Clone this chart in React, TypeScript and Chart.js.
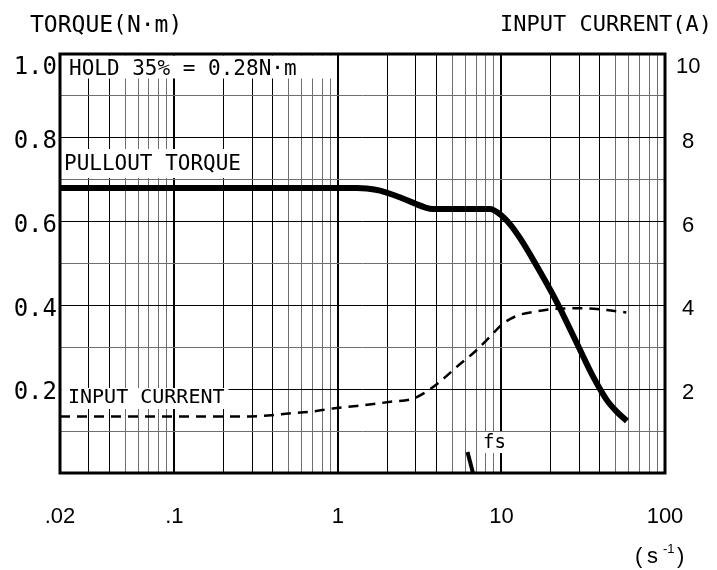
import React, { useEffect, useRef } from 'react';
import { Chart, registerables } from 'chart.js';

Chart.register(...registerables);

// ---- data (frequency in s^-1) ----
const torqueFreq = [0.02, 1.31, 1.5, 1.81, 2.39, 2.96, 3.4, 3.81, 8.5, 9.78, 11.26, 12.96, 15.79, 21.8, 29.3, 36.7, 44.1, 50.8, 58.5];
const torqueValues = [0.68, 0.68, 0.679, 0.674, 0.658, 0.643, 0.634, 0.63, 0.63, 0.618, 0.594, 0.561, 0.506, 0.408, 0.305, 0.227, 0.174, 0.146, 0.124];

const currentFreq = [0.02, 0.29, 0.4, 0.5, 0.67, 0.93, 1.3, 2.1, 2.9, 3.6, 4.45, 5.35, 6.9, 8.5, 10.1, 12.4, 16.5, 21.8, 32, 44, 58];
const currentValues = [1.35, 1.35, 1.38, 1.42, 1.46, 1.54, 1.6, 1.7, 1.78, 1.98, 2.26, 2.54, 2.9, 3.25, 3.55, 3.75, 3.86, 3.92, 3.93, 3.89, 3.83];

const fsMarkerFreq = [6.2, 6.7];
const fsMarkerTorque = [0.05, 0];

// ---- axes ----
const xGridMultipliers = [1, 2, 3, 4, 5, 6, 7, 8, 9];
const xGridDecades = [0.01, 0.1, 1, 10, 100];
const xLabelValues = [0.02, 0.1, 1, 10, 100];
const xLabelTexts = ['.02', '.1', '1', '10', '100'];

const MONO = '"DejaVu Sans Mono", monospace';
const SANS = '"Liberation Sans", Arial, sans-serif';

const xGridValues: number[] = [];
for (const d of xGridDecades) {
  for (const m of xGridMultipliers) {
    const v = d * m;
    if (v >= 0.02 * (1 - 1e-9) && v <= 100 * (1 + 1e-9)) xGridValues.push(v);
  }
}

function multOf(v: number) {
  const e = Math.floor(Math.log10(v) + 1e-9);
  return Math.round(v / Math.pow(10, e));
}

function toPoints(xs: number[], ys: number[]) {
  return xs.map((x, i) => ({ x, y: ys[i] }));
}

const annotationPlugin = {
  id: 'annotations',
  beforeDatasetsDraw(chart: any) {
    const { ctx } = chart;
    ctx.save();
    ctx.fillStyle = '#fff';
    ctx.fillRect(61.5, 55.5, 274, 23);
    ctx.fillRect(61.5, 149, 179, 29);
    ctx.fillRect(61.5, 388, 167, 21);
    ctx.fillRect(480, 432, 26, 21);
    ctx.fillStyle = '#000';
    ctx.textBaseline = 'middle';
    ctx.textAlign = 'left';
    ctx.font = `21px ${MONO}`;
    ctx.fillText('HOLD 35% = 0.28N·m', 69, 70);
    ctx.fillText('PULLOUT TORQUE', 64, 165);
    ctx.font = `20px ${MONO}`;
    ctx.fillText('INPUT CURRENT', 68, 398);
    ctx.font = `19px ${MONO}`;
    ctx.fillText('fs', 483, 443);
    ctx.restore();
  },
  afterDatasetsDraw(chart: any) {
    const { ctx, chartArea: a } = chart;
    ctx.save();
    ctx.strokeStyle = '#000';
    ctx.lineWidth = 3;
    ctx.strokeRect(a.left, a.top, a.right - a.left, a.bottom - a.top);
    ctx.restore();
  },
  afterDraw(chart: any) {
    const { ctx } = chart;
    ctx.save();
    ctx.fillStyle = '#000';
    ctx.textBaseline = 'middle';
    ctx.textAlign = 'left';
    ctx.font = `23px ${MONO}`;
    ctx.fillText('TORQUE(N·m)', 30, 26);
    ctx.textAlign = 'right';
    ctx.font = `22px ${MONO}`;
    ctx.fillText('INPUT CURRENT(A)', 712, 25);
    ctx.textAlign = 'left';
    ctx.font = `22px ${SANS}`;
    ctx.fillText('(', 635, 557);
    ctx.fillText('s', 647, 557);
    ctx.fillText(')', 677, 557);
    ctx.font = `13px ${SANS}`;
    ctx.fillText('-1', 663, 549);
    ctx.restore();
  },
};

export default function App() {
  const ref = useRef<HTMLCanvasElement | null>(null);

  useEffect(() => {
    if (!ref.current) return;
    const chart = new Chart(ref.current, {
      type: 'line',
      data: {
        datasets: [
          {
            label: 'PULLOUT TORQUE',
            data: toPoints(torqueFreq, torqueValues),
            yAxisID: 'y',
            borderColor: '#000',
            borderWidth: 6,
            cubicInterpolationMode: 'monotone',
            pointRadius: 0,
            fill: false,
          },
          {
            label: 'fs',
            data: toPoints(fsMarkerFreq, fsMarkerTorque),
            yAxisID: 'y',
            borderColor: '#000',
            borderWidth: 4,
            pointRadius: 0,
            fill: false,
          },
          {
            label: 'INPUT CURRENT',
            data: toPoints(currentFreq, currentValues),
            yAxisID: 'y1',
            borderColor: '#000',
            borderWidth: 2.5,
            borderDash: [10, 7],
            cubicInterpolationMode: 'monotone',
            pointRadius: 0,
            fill: false,
          },
        ],
      },
      options: {
        animation: false,
        responsive: false,
        layout: { padding: { top: 54, left: 0, right: 0, bottom: 0 } },
        plugins: {
          legend: { display: false },
          tooltip: { enabled: false },
          title: { display: false },
        },
        scales: {
          x: {
            type: 'logarithmic',
            position: 'bottom',
            min: 0.02,
            max: 100,
            afterBuildTicks: (s: any) => {
              s.ticks = xGridValues.map((v) => ({ value: v }));
            },
            afterFit: (s: any) => {
              s.height = 97;
            },
            border: { display: false },
            grid: {
              drawTicks: false,
              color: (c: any) => (c.tick && multOf(c.tick.value) >= 5 ? '#6e6e6e' : '#000'),
              lineWidth: (c: any) => (c.tick && multOf(c.tick.value) === 1 ? 2 : 1),
            },
            ticks: {
              autoSkip: false,
              maxRotation: 0,
              minRotation: 0,
              padding: 31,
              color: '#000',
              font: { family: SANS, size: 22 },
              callback: (v: any) => {
                const val = Number(v);
                const i = xLabelValues.findIndex((t) => Math.abs(Math.log10(t) - Math.log10(val)) < 1e-6);
                return i >= 0 ? xLabelTexts[i] : '';
              },
            },
          },
          y: {
            type: 'linear',
            position: 'left',
            min: 0,
            max: 1,
            afterFit: (s: any) => {
              s.width = 60;
            },
            border: { display: false },
            grid: {
              drawTicks: false,
              color: (c: any) => (Math.round(c.tick.value * 10) % 2 === 0 ? '#000' : '#6e6e6e'),
              lineWidth: 1,
            },
            ticks: {
              stepSize: 0.1,
              autoSkip: false,
              padding: 3,
              labelOffset: 4,
              color: '#000',
              font: { family: MONO, size: 24, lineHeight: 0.85 },
              callback: (v: any) => {
                const k = Math.round(Number(v) * 10);
                if (k === 0 || k % 2) return '';
                const s = (k / 10).toFixed(1);
                return k === 10 ? ['', s] : s;
              },
            },
          },
          y1: {
            type: 'linear',
            position: 'right',
            min: 0,
            max: 10,
            afterFit: (s: any) => {
              s.width = 52;
            },
            border: { display: false },
            grid: { display: false, drawTicks: false },
            ticks: {
              stepSize: 1,
              autoSkip: false,
              padding: 11,
              crossAlign: 'center',
              labelOffset: 4,
              color: '#000',
              font: { family: SANS, size: 22, lineHeight: 0.85 },
              callback: (v: any) => {
                const k = Math.round(Number(v));
                if (k === 0 || k % 2) return '';
                return k === 10 ? ['', String(k)] : String(k);
              },
            },
          },
        },
      } as any,
      plugins: [annotationPlugin],
    });
    return () => chart.destroy();
  }, []);

  return (
    <canvas
      ref={ref}
      width={717}
      height={570}
      style={{ position: 'fixed', left: 0, top: 0, width: 717, height: 570, display: 'block', background: '#fff' }}
    />
  );
}
